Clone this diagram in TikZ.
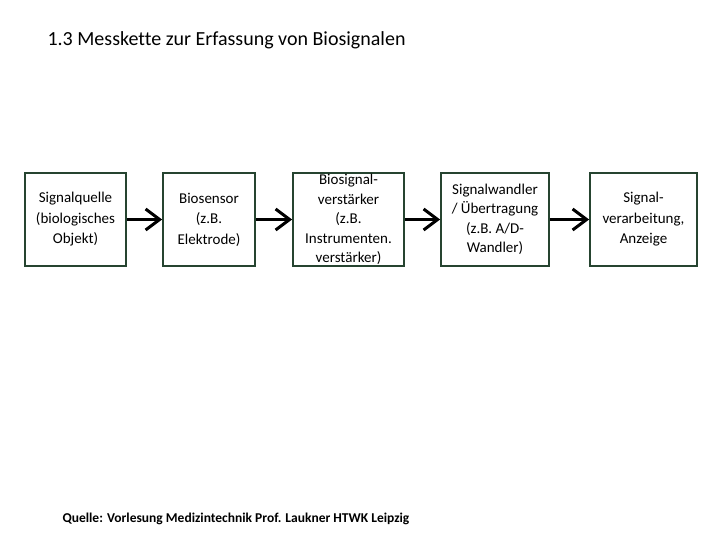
\documentclass[tikz,border=0pt]{standalone}
\usepackage{fontspec}
\setmainfont{Carlito}[Ligatures=NoCommon]
\usepackage{xcolor}
\usetikzlibrary{arrows.meta}
\definecolor{boxgreen}{RGB}{38,68,48}

\begin{document}
\begin{tikzpicture}
			[line join=miter,>={Straight Barb[length=14pt,width=21pt]},x=1pt,y=1pt,
			kette/.style={draw=boxgreen,line width=1.8pt,minimum height=93pt,inner sep=0pt,align=center,font=\fontsize{15}{20.5}\selectfont},
			pfeil/.style={->,line width=3pt}]
			\useasboundingbox (0,0) rectangle (720,-540);
			\node[anchor=west,font=\fontsize{20}{24}\selectfont] (titel) at (44,-40) {1.3 Messkette zur Erfassung von Biosignalen};
			\node[kette,minimum width=101pt] (quelle) at (75.5,-219.5) {Signalquelle\\(biologisches\\Objekt)};
			\node[kette,minimum width=92pt] (sensor) at (209,-219.5) {Biosensor\\(z.B.\\Elektrode)};
			\node[kette,minimum width=111pt,font=\fontsize{15}{19.5}\selectfont] (verst) at (348.5,-219.5) {Biosignal-\\verstärker\\(z.B.\\Instrumenten.\\verstärker)};
			\node[kette,minimum width=108pt,font=\fontsize{15}{19.5}\selectfont] (wandler) at (495,-219.5) {Signalwandler\\/ Übertragung\\(z.B. A/D-\\Wandler)};
			\node[kette,minimum width=107pt] (anzeige) at (643.5,-219.5) {Signal-\\verarbeitung,\\Anzeige};
			\draw[pfeil] (quelle) -- (sensor);
			\draw[pfeil] (sensor) -- (verst);
			\draw[pfeil] (verst) -- (wandler);
			\draw[pfeil] (wandler) -- (anzeige);
			\node[anchor=west,font=\fontsize{13.5}{16}\selectfont\bfseries] (quelltext) at (59,-519) {Quelle: Vorlesung Medizintechnik Prof. Laukner HTWK Leipzig};
		\end{tikzpicture}
\end{document}
